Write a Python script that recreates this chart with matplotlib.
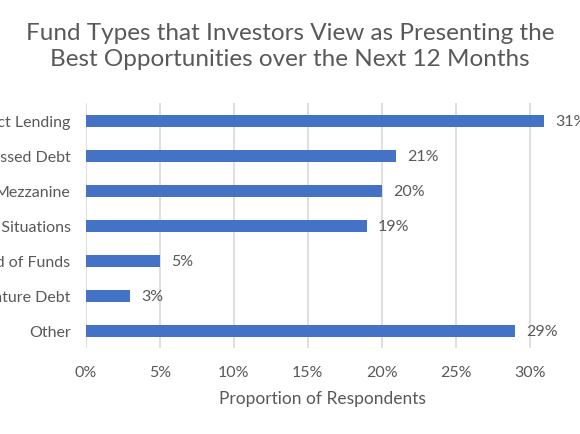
import matplotlib.pyplot as plt

# Datos del gráfico
categorias = ["Direct Lending", "Distressed Debt", "Mezzanine", "Special Situations",
              "Fund of Funds", "Venture Debt", "Other"]
valores = [0.31, 0.21, 0.20, 0.19, 0.05, 0.03, 0.29]
ticks_x = [0, 0.05, 0.10, 0.15, 0.20, 0.25, 0.30]
etiquetas_x = ["0%", "5%", "10%", "15%", "20%", "25%", "30%"]

gris = "#595959"
plt.rcParams['font.family'] = ['Lato', 'DejaVu Sans']

fig = plt.figure(figsize=(5.8, 4.35), dpi=100)
ax = fig.add_axes([0.148, 0.1966, 0.816, 0.5632])

pos = list(range(len(categorias)))
ax.barh(pos, valores, height=0.35, color="#4472C4", zorder=3, clip_on=False)
for p, v in zip(pos, valores):
    ax.text(v + 0.0075, p, f"{round(v*100)}%", va='center', ha='left',
            fontsize=11.5, color=gris, clip_on=False)

ax.set_ylim(len(categorias) - 0.5, -0.5)
ax.set_yticks(pos)
ax.set_yticklabels(categorias, fontsize=11.5, color=gris)
ax.set_xlim(0, 0.32)
ax.set_xticks(ticks_x)
ax.set_xticklabels(etiquetas_x, fontsize=11.5, color=gris)
ax.tick_params(length=0, pad=11)
ax.tick_params(axis='x', pad=12)
ax.grid(axis='x', color="#d9d9d9", linewidth=1.2, zorder=0)
for s in ax.spines.values():
    s.set_visible(False)

ax.set_xlabel("Proportion of Respondents", fontsize=12.5, color=gris, labelpad=8)
fig.suptitle("Fund Types that Investors View as Presenting the\nBest Opportunities over the Next 12 Months",
             fontsize=17.5, color=gris, y=0.947, linespacing=1.3)

fig.savefig("out.png", dpi=100)
